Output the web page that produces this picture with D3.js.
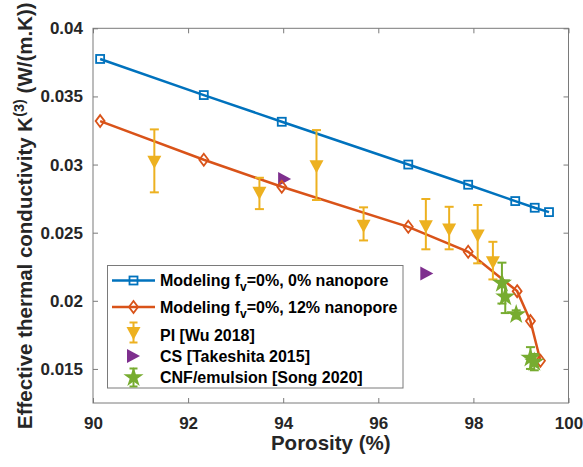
<!DOCTYPE html>
<html><head><meta charset="utf-8">
<script src="https://cdn.jsdelivr.net/npm/d3@7"></script>
<style>body{margin:0;background:#fff}svg{display:block}text{font-family:"Liberation Sans",Arial,sans-serif;font-weight:bold}</style>
</head><body>
<svg id="c" width="583" height="467"></svg>
<script>
// ---- data ----
const xTicks = [90, 92, 94, 96, 98, 100];
const yTicks = [0.015, 0.02, 0.025, 0.03, 0.035, 0.04];
const yTickLabels = ["0.015", "0.02", "0.025", "0.03", "0.035", "0.04"];

const model0Porosity = [90.15, 92.33, 93.97, 96.63, 97.89, 98.88, 99.29, 99.59];
const model0K = [0.03775, 0.0351, 0.03314, 0.0300, 0.02852, 0.02732, 0.02683, 0.02651];

const model12Porosity = [90.15, 92.33, 93.97, 96.63, 97.89, 98.92, 99.2, 99.41];
const model12K = [0.03319, 0.03035, 0.02837, 0.02543, 0.0236, 0.02071, 0.01851, 0.0156];

const wuPorosity = [91.29, 93.5, 94.70, 95.69, 97.0, 97.49, 98.09, 98.41];
const wuK = [0.03016, 0.02789, 0.02984, 0.02548, 0.02543, 0.02519, 0.02475, 0.02279];
const wuUpper = [0.03258, 0.02903, 0.03253, 0.02686, 0.02747, 0.0269, 0.02703, 0.02433];
const wuLower = [0.02796, 0.02673, 0.0274, 0.02443, 0.02378, 0.02378, 0.02275, 0.02157];

const takeshitaPorosity = [94.03, 97.02];
const takeshitaK = [0.02894, 0.0220];

const songPorosity = [98.6, 98.67, 98.9, 99.2, 99.28];
const songK = [0.0213, 0.0203, 0.0190, 0.0158, 0.0155];
const songErr = [0.0015, 0.0012, 0.0003, 0.0008, 0.0006];

const legendLabels = ["Modeling f|v|=0%, 0% nanopore", "Modeling f|v|=0%, 12% nanopore",
  "PI [Wu 2018]", "CS [Takeshita 2015]", "CNF/emulsion [Song 2020]"];

// ---- chart ----
const C = {blue:"#0072BD", orange:"#D95319", yellow:"#EDB120", purple:"#7E2F8E", green:"#77AC30", axis:"#262626", box:"#7a7a7a"};
const svg = d3.select("#c");
const L = 93, R = 568.5, T = 28.3, B = 403;
const x = d3.scaleLinear().domain([90, 100]).range([L, R]);
const y = d3.scaleLinear().domain([0.0125, 0.04]).range([B, T]);
const FONT = '"Liberation Sans",Arial,sans-serif';

// axes
const tickLen = 5;
const gx = svg.append("g").attr("transform", `translate(0,${B})`)
  .call(d3.axisBottom(x).tickValues(xTicks).tickSizeInner(-tickLen).tickSizeOuter(0).tickPadding(13.5).tickFormat(d3.format("d")));
const gxt = svg.append("g").attr("transform", `translate(0,${T})`)
  .call(d3.axisTop(x).tickValues(xTicks).tickSizeInner(-tickLen).tickSizeOuter(0).tickFormat(""));
const gy = svg.append("g").attr("transform", `translate(${L},0)`)
  .call(d3.axisLeft(y).tickValues(yTicks).tickSizeInner(-tickLen).tickSizeOuter(0).tickPadding(10).tickFormat((d,i)=>yTickLabels[i]));
const gyr = svg.append("g").attr("transform", `translate(${R},0)`)
  .call(d3.axisRight(y).tickValues(yTicks).tickSizeInner(-tickLen).tickSizeOuter(0).tickFormat(""));
[gx, gxt, gy, gyr].forEach(g => {
  g.select(".domain").remove();
  g.selectAll(".tick line").attr("stroke", C.box).attr("stroke-width", 1);
  g.selectAll(".tick text").attr("fill", C.axis).style("font-size", "17px").style("font-weight", "bold")
    .style("font-family", FONT);
});
svg.append("rect").attr("x", L).attr("y", T).attr("width", R - L).attr("height", B - T)
  .attr("fill", "none").attr("stroke", C.box).attr("stroke-width", 1);

// axis labels
svg.append("text").attr("x", (L + R) / 2).attr("y", 450).attr("text-anchor", "middle")
  .attr("fill", C.axis).style("font-size", "20.5px").text("Porosity (%)");
const yl = svg.append("text").attr("transform", `translate(31.5,${(T + B) / 2}) rotate(-90)`)
  .attr("text-anchor", "middle").attr("fill", C.axis).style("font-size", "20.5px");
yl.append("tspan").text("Effective thermal conductivity K");
yl.append("tspan").attr("dy", -8).style("font-size", "14.5px").text("(3)");
yl.append("tspan").attr("dy", 8).text(" (W/(m.K))");

// marker helpers
function square(g, cx, cy, col) {
  g.append("rect").attr("x", cx - 4).attr("y", cy - 4).attr("width", 8).attr("height", 8)
    .attr("fill", "none").attr("stroke", col).attr("stroke-width", 1.8);
}
function diamond(g, cx, cy, col) {
  g.append("path").attr("d", `M${cx},${cy - 6}L${cx + 4.5},${cy}L${cx},${cy + 6}L${cx - 4.5},${cy}Z`)
    .attr("fill", "none").attr("stroke", col).attr("stroke-width", 1.8);
}
function triDown(g, cx, cy, col) {
  g.append("path").attr("d", `M${cx - 7},${cy - 6.5}L${cx + 7},${cy - 6.5}L${cx},${cy + 6.5}Z`).attr("fill", col);
}
function triRight(g, cx, cy, col) {
  g.append("path").attr("d", `M${cx - 6.5},${cy - 7}L${cx + 6.5},${cy}L${cx - 6.5},${cy + 7}Z`).attr("fill", col);
}
const starPath = d3.symbol(d3.symbolStar, 125)();
function star(g, cx, cy, col) {
  g.append("path").attr("d", starPath).attr("transform", `translate(${cx},${cy})`).attr("fill", col);
}
function errBar(g, cx, y1, y2, col, cap) {
  g.append("line").attr("x1", cx).attr("x2", cx).attr("y1", y1).attr("y2", y2).attr("stroke", col).attr("stroke-width", 2);
  [y1, y2].forEach(v => g.append("line").attr("x1", cx - cap).attr("x2", cx + cap).attr("y1", v).attr("y2", v)
    .attr("stroke", col).attr("stroke-width", 2));
}

const plot = svg.append("g");
const line = d3.line().x(d => x(d[0])).y(d => y(d[1]));
// model lines
plot.append("path").datum(d3.zip(model0Porosity, model0K)).attr("d", line)
  .attr("fill", "none").attr("stroke", C.blue).attr("stroke-width", 2.5);
plot.append("path").datum(d3.zip(model12Porosity, model12K)).attr("d", line)
  .attr("fill", "none").attr("stroke", C.orange).attr("stroke-width", 2.5);

// Wu data
wuPorosity.forEach((p, i) => {
  errBar(plot, x(p), y(wuUpper[i]), y(wuLower[i]), C.yellow, 4.5);
  triDown(plot, x(p), y(wuK[i]), C.yellow);
});
// Takeshita
takeshitaPorosity.forEach((p, i) => triRight(plot, x(p), y(takeshitaK[i]), C.purple));
// model markers
model0Porosity.forEach((p, i) => square(plot, x(p), y(model0K[i]), C.blue));
model12Porosity.forEach((p, i) => diamond(plot, x(p), y(model12K[i]), C.orange));
// Song
songPorosity.forEach((p, i) => {
  errBar(plot, x(p), y(songK[i] + songErr[i]), y(songK[i] - songErr[i]), C.green, 4.5);
  star(plot, x(p), y(songK[i]), C.green);
});

// legend
const lg = svg.append("g");
lg.append("rect").attr("x", 107.5).attr("y", 265.5).attr("width", 295.5).attr("height", 122.5)
  .attr("fill", "#fff").attr("stroke", C.box).attr("stroke-width", 1);
const rowsY = [280.5, 307, 335.5, 356, 377.5];
const mx = 133.5, tx = 160;
function legendText(i) {
  const t = lg.append("text").attr("x", tx).attr("y", rowsY[i] + 5.8).attr("fill", "#000").style("font-size", "16px");
  const parts = legendLabels[i].split("|");
  t.append("tspan").text(parts[0]);
  if (parts.length > 1) {
    t.append("tspan").attr("dy", 5).style("font-size", "12px").text(parts[1]);
    t.append("tspan").attr("dy", -5).text(parts[2]);
  }
}
lg.append("line").attr("x1", 112).attr("x2", 155).attr("y1", rowsY[0]).attr("y2", rowsY[0]).attr("stroke", C.blue).attr("stroke-width", 2.5);
square(lg, mx, rowsY[0], C.blue);
lg.append("line").attr("x1", 112).attr("x2", 155).attr("y1", rowsY[1]).attr("y2", rowsY[1]).attr("stroke", C.orange).attr("stroke-width", 2.5);
diamond(lg, mx, rowsY[1], C.orange);
errBar(lg, mx, rowsY[2] - 13, rowsY[2] + 7, C.yellow, 4);
triDown(lg, mx, rowsY[2] - 2, C.yellow);
triRight(lg, mx, rowsY[3], C.purple);
errBar(lg, mx, rowsY[4] - 9, rowsY[4] + 9, C.green, 4);
star(lg, mx, rowsY[4], C.green);
legendLabels.forEach((_, i) => legendText(i));
</script>
</body></html>
